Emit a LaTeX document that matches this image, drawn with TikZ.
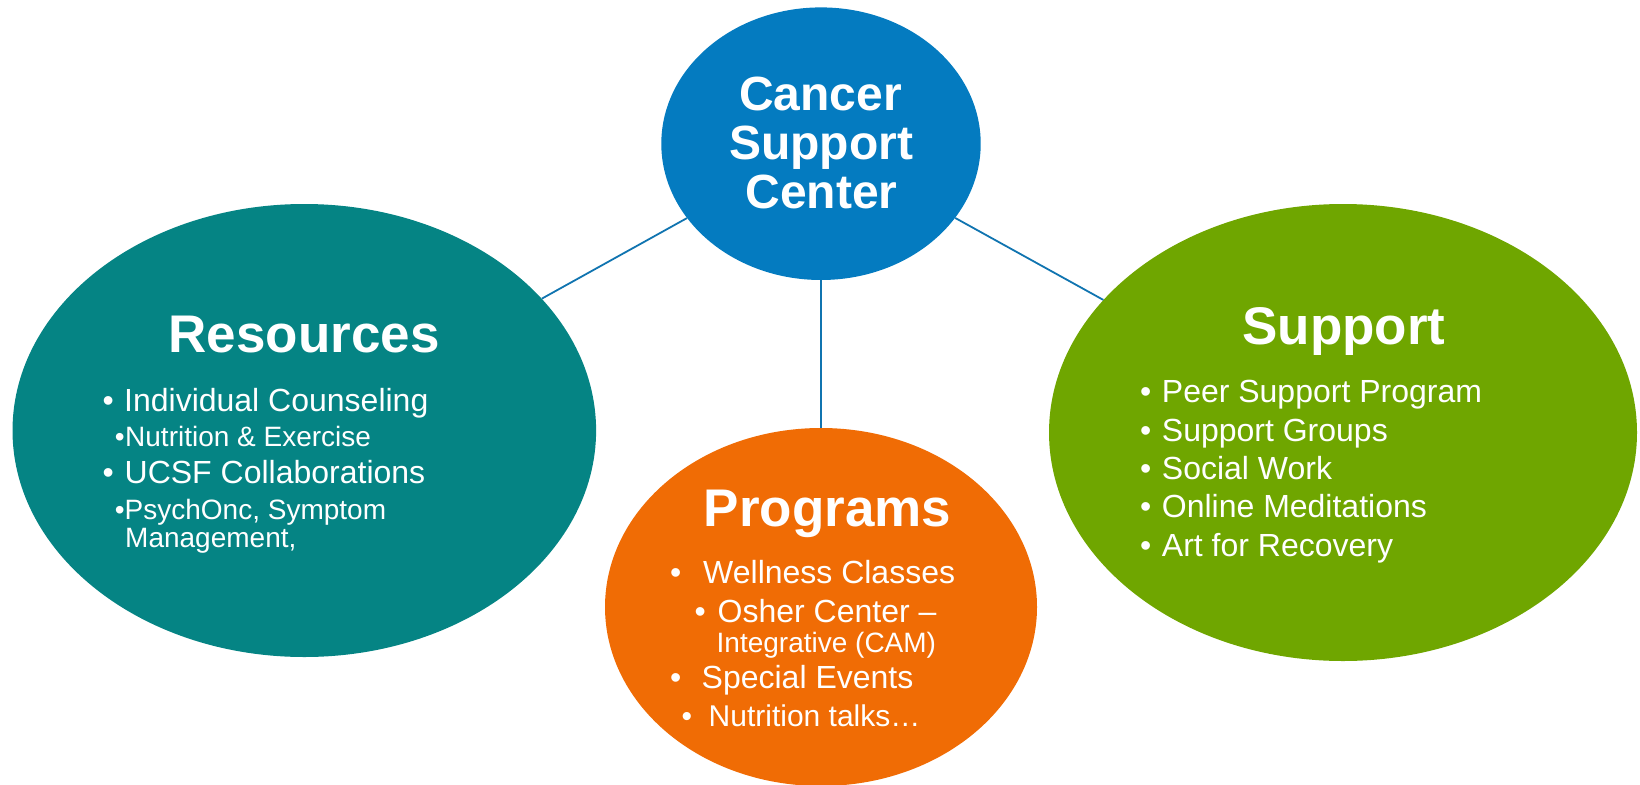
\documentclass[tikz,border=0pt]{standalone}
\usepackage{fontspec}
\setmainfont{Liberation Sans}
\usetikzlibrary{shapes.geometric}

\definecolor{hubblue}{RGB}{4,123,192}
\definecolor{resteal}{RGB}{5,132,132}
\definecolor{progorange}{RGB}{240,108,5}
\definecolor{suppgreen}{RGB}{111,166,0}
\definecolor{linkblue}{RGB}{16,116,176}

% one bulleted line: name, bullet x, text x, baseline y, font size, text
\newcommand\listline[6]{%
  \node[item, font=\fontsize{#5}{#5}\selectfont] (#1) at (#2,#4)
    {\makebox[\dimexpr#3pt-#2pt\relax][l]{\textbullet}#6};}

\begin{document}
\begin{tikzpicture}[x=1pt,y=-1pt,
  blob/.style={ellipse, inner sep=0pt, draw=none},
  title/.style={anchor=base, inner sep=0pt, text=white,
    font=\bfseries\fontsize{53}{53}\selectfont},
  hubtitle/.style={anchor=base, inner sep=0pt, text=white,
    font=\bfseries\fontsize{48}{48}\selectfont},
  item/.style={anchor=base west, inner sep=0pt, text=white},
  link/.style={draw=linkblue, line width=1.8pt}]
\useasboundingbox (0,0) rectangle (1640,784);

% the four ellipses
\node[blob, fill=hubblue, minimum width=319.4pt, minimum height=272.6pt] (hub) at (821,143.7) {};
\node[blob, fill=resteal, minimum width=583.6pt, minimum height=453pt] (res) at (304.3,430.5) {};
\node[blob, fill=suppgreen, minimum width=588pt, minimum height=457pt] (supp) at (1343,432.5) {};
\node[blob, fill=progorange, minimum width=432pt, minimum height=358pt] (prog) at (821,607) {};

% connectors from the hub
\draw[link] (hub) -- (res);
\draw[link] (hub) -- (supp);
\draw[link] (hub) -- (prog);

% hub title
\node[hubtitle] (hubt1) at (820.5,110) {Cancer};
\node[hubtitle] (hubt2) at (821,159.3) {Support};
\node[hubtitle] (hubt3) at (821.5,208.3) {Center};

% Resources
\node[title] (rest) at (304,352.7) {Resources};
\listline{res1}{102.4}{124}{411.7}{32}{Individual Counseling}
\listline{res2}{114.6}{125}{446.7}{28}{Nutrition \& Exercise}
\listline{res3}{102.4}{124.5}{483.3}{32}{UCSF Collaborations}
\listline{res4}{114.6}{124.5}{519.3}{28}{PsychOnc, Symptom}
\node[item, font=\fontsize{28}{28}\selectfont] (res5) at (125,547.7) {Management,};

% Support
\node[title] (suppt) at (1344,344) {Support};
\listline{supp1}{1140}{1161.7}{402.7}{32}{Peer Support Program}
\listline{supp2}{1140}{1161.7}{441}{32}{Support Groups}
\listline{supp3}{1140}{1161.7}{479}{32}{Social Work}
\listline{supp4}{1140}{1161.7}{517.7}{32}{Online Meditations}
\listline{supp5}{1140}{1161.7}{556.7}{32}{Art for Recovery}

% Programs
\node[title] (progt) at (827.5,526) {Programs};
\listline{prog1}{670}{703}{583.3}{32}{Wellness Classes}
\listline{prog2}{694.4}{717.5}{622.7}{32}{Osher Center –}
\node[item, font=\fontsize{28}{28}\selectfont] (prog3) at (716.5,652.7) {Integrative (CAM)};
\listline{prog4}{670}{701.5}{688.3}{32}{Special Events}
\listline{prog5}{681.4}{708.5}{726.7}{30}{Nutrition talks…}
\end{tikzpicture}
\end{document}
